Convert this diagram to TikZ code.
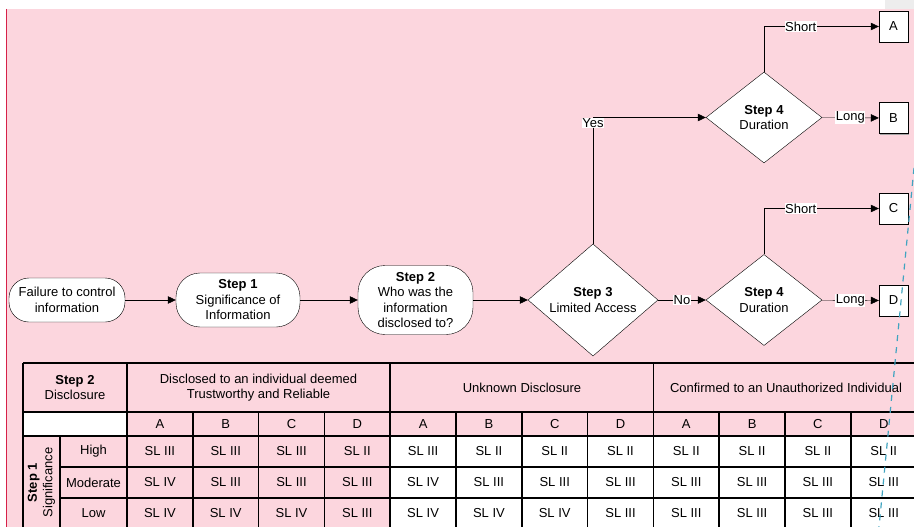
\documentclass[tikz,border=0pt]{standalone}
\usepackage{fontspec}
\setmainfont{Liberation Sans}
\usetikzlibrary{shapes.geometric,arrows.meta,shadows}

\definecolor{bgpink}{RGB}{252,214,222}
\definecolor{edgered}{RGB}{214,32,72}
\definecolor{dashteal}{RGB}{64,164,192}

\tikzset{
  txt/.style={font=\fontsize{13}{15.5}\selectfont},
  pill/.style={txt,draw,fill=white,rounded corners=20pt,align=center,inner sep=0pt},
  decide/.style={txt,draw,fill=white,diamond,align=center,inner sep=0pt,
    minimum width=116pt,minimum height=91pt},
  outcome/.style={txt,draw,fill=white,minimum width=29pt,minimum height=31pt,inner sep=0pt,
    drop shadow={shadow xshift=1.2pt,shadow yshift=-1.2pt,fill=black!35,opacity=1}},
  flow/.style={draw,-{Triangle[length=8pt,width=7.5pt]}},
  lbl/.style={txt,fill=white,inner sep=0.6pt},
  tbl/.style={line width=1.5pt}
}

\begin{document}
\begin{tikzpicture}[x=1pt,y=-1pt]

        \useasboundingbox (0,0) rectangle (914,527);
        \fill[white] (0,0) rectangle (914,9);
        \fill[black!7] (885,0) rectangle (914,9);
        \fill[bgpink] (7,9) rectangle (914,527);
        \draw[edgered,line width=1.5pt] (6.5,9) -- (6.5,527);

        % flow chart
        \node[pill,minimum width=116pt,minimum height=44pt] (fail) at (67,300)
          {Failure to control\\information};
        \node[pill,minimum width=124pt,minimum height=54pt,rounded corners=24pt] (step1) at (238,300)
          {\textbf{Step 1}\\Significance of\\Information};
        \node[pill,minimum width=115pt,minimum height=69pt,rounded corners=27pt] (step2) at (415.5,300)
          {\textbf{Step 2}\\Who was the\\information\\disclosed to?};
        \node[decide,minimum width=130pt,minimum height=103pt] (step3) at (593,300)
          {\textbf{Step 3}\\Limited Access};
        \node[decide] (dur1) at (764,117.5) {\textbf{Step 4}\\Duration};
        \node[decide] (dur2) at (764,300) {\textbf{Step 4}\\Duration};

        \node[outcome] (A) at (893.5,26.5)  {A};
        \node[outcome] (B) at (893.5,118)   {B};
        \node[outcome] (C) at (893.5,208.5) {C};
        \node[outcome] (D) at (893.5,300.5) {D};

        \path[flow] (fail) -- (step1);
        \path[flow] (step1) -- (step2);
        \path[flow] (step2) -- (step3);
        \path[flow] (step3.north) |- node[lbl,pos=0.5,anchor=north,yshift=-0.5pt] {Yes} (dur1.west);
        \path[flow] (step3) -- node[lbl] {No} (dur2);
        \path[flow] (dur1.north) |- node[lbl,pos=0.66] {Short} (A.west);
        \path[flow] (dur1) -- node[lbl] {Long} (B);
        \path[flow] (dur2.north) |- node[lbl,pos=0.66] {Short} (C.west);
        \path[flow] (dur2) -- node[lbl] {Long} (D.west);

        % table
        \fill[white] (23,412) rectangle (127,436);
        \fill[white] (390.2,436) rectangle (917,529);

        \draw[tbl] (23,363) -- (917,363);
        \draw[line width=2.2pt] (23,412) -- (917,412);
        \draw[tbl] (23,436) -- (917,436);
        \draw[tbl] (60,467) -- (917,467);
        \draw[tbl] (60,498) -- (917,498);
        \draw[tbl] (23,529) -- (917,529);
        \foreach \x in {23,127,390.2,653.4}
          \draw[tbl] (\x,363) -- (\x,529);
        \draw[tbl] (60,436) -- (60,529);
        \foreach \i in {1,2,3,5,6,7,9,10,11,12}
          \draw[tbl] ({127+65.8*\i},412) -- ({127+65.8*\i},529);

        \node[txt,align=center] (hdstep) at (75,387.5) {\textbf{Step 2}\\Disclosure};
        \node[txt,align=center] (hdtrust) at (258.5,387.5)
          {Disclosed to an individual deemed\\Trustworthy and Reliable};
        \node[txt] (hdunknown) at (522,387.5) {Unknown Disclosure};
        \node[txt] (hdconfirm) at (786,387.5) {Confirmed to an Unauthorized Individual};

        \foreach \v [count=\i from 0] in {A,B,C,D,A,B,C,D,A,B,C,D}
          \node[txt] (col\i) at ({127+65.8*\i+32.9},424) {\v};

        \node[txt,rotate=90,align=center] (sig) at (41.5,482.5) {\textbf{Step 1}\\Significance};
        \node[txt] (high) at (93.5,451.5) {High};
        \node[txt] (moderate) at (93.5,482.5) {Moderate};
        \node[txt] (low) at (93.5,513.5) {Low};

        \foreach \vals/\y/\r in {{III,III,III,II,III,II,II,II,II,II,II,II}/451.5/1,
                                 {IV,III,III,III,IV,III,III,III,III,III,III,III}/482.5/2,
                                 {IV,IV,IV,III,IV,IV,IV,III,III,III,III,III}/513.5/3}
          \foreach \v [count=\i from 0] in \vals
            \node[txt] (sl\r-\i) at ({127+65.8*\i+32.9},\y) {SL \v};

        \draw[dashteal,line width=1.2pt,dash pattern=on 6pt off 6pt] (914,168) -- (879,527);

      \end{tikzpicture}
\end{document}
